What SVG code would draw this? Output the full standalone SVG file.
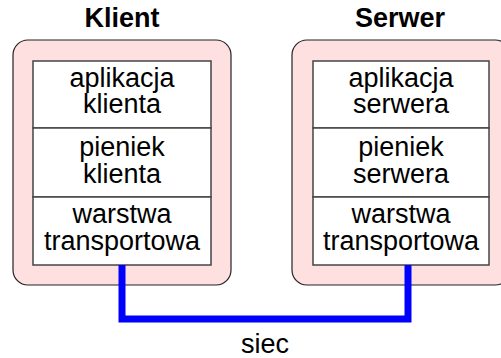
<svg xmlns="http://www.w3.org/2000/svg" width="501" height="358" viewBox="0 0 501 358">
<style>
.outer{fill:#ffe0e0;stroke:#222;stroke-width:1.2}
.inner{fill:#fff;stroke:#444;stroke-width:1.5}
.t{font-family:"Liberation Sans",Arial,sans-serif;font-size:27px;text-anchor:middle;fill:#000}
.h{font-family:"Liberation Sans",Arial,sans-serif;font-size:27px;font-weight:bold;text-anchor:middle;fill:#000}
.link{fill:none;stroke:#0000ff;stroke-width:7}
</style>
<rect width="501" height="358" fill="#fff"/>
<g id="klient">
<text class="h" x="122" y="27">Klient</text>
<rect class="outer" x="13" y="40" width="218" height="245" rx="15"/>
<rect class="inner" x="33" y="61" width="178" height="67"/>
<rect class="inner" x="33" y="128" width="178" height="69"/>
<rect class="inner" x="33" y="197" width="178" height="68"/>
<text class="t" x="122" y="87">aplikacja</text>
<text class="t" x="122" y="113">klienta</text>
<text class="t" x="122" y="156">pieniek</text>
<text class="t" x="122" y="183">klienta</text>
<text class="t" x="122" y="223">warstwa</text>
<text class="t" x="122" y="250">transportowa</text>
</g>
<g id="serwer">
<text class="h" x="400" y="27">Serwer</text>
<rect class="outer" x="292" y="40" width="218" height="245" rx="15"/>
<rect class="inner" x="313" y="61" width="176" height="67"/>
<rect class="inner" x="313" y="128" width="176" height="69"/>
<rect class="inner" x="313" y="197" width="176" height="68"/>
<text class="t" x="401" y="87">aplikacja</text>
<text class="t" x="401" y="113">serwera</text>
<text class="t" x="401" y="156">pieniek</text>
<text class="t" x="401" y="183">serwera</text>
<text class="t" x="401" y="223">warstwa</text>
<text class="t" x="401" y="250">transportowa</text>
</g>
<g id="connectors">
<path class="link" d="M122,265 V319 H408 V265"/>
<text class="t" x="265" y="353">siec</text>
</g>
</svg>
